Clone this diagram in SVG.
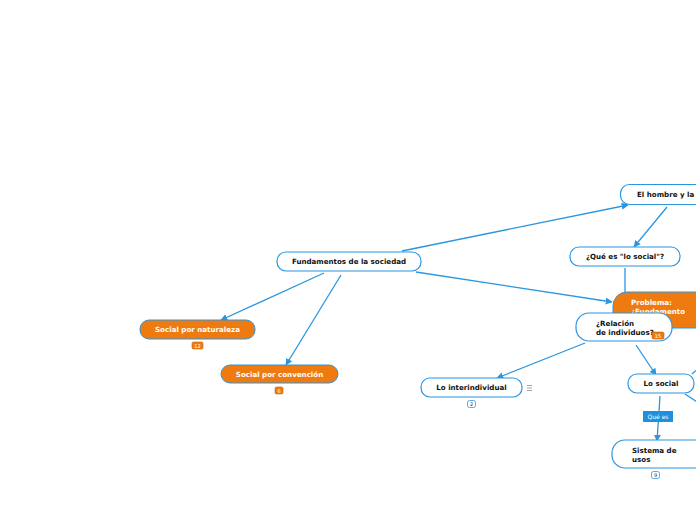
<svg xmlns="http://www.w3.org/2000/svg" width="696" height="520" viewBox="0 0 696 520">
<style>
.n{fill:#fff;stroke:#2a96e0;stroke-width:1.2}
.o{fill:#ef7b10;stroke:#2a96e0;stroke-width:1}
.t{font-family:"DejaVu Sans",sans-serif;font-weight:bold;font-size:7.1px;fill:#111}
.tw{font-family:"DejaVu Sans",sans-serif;font-weight:bold;font-size:7.1px;fill:#fff}
.c{stroke:#2a96e0;stroke-width:1.3;fill:none}
.b{fill:#ef7b10;stroke:#c7620a;stroke-width:0.6}
.bw{fill:#fff;stroke:#2a96e0;stroke-width:0.8}
.bt{font-family:"DejaVu Sans",sans-serif;font-size:5px;fill:#fff}
.btd{font-family:"DejaVu Sans",sans-serif;font-size:5px;fill:#333}
</style>
<defs>
<marker id="a" viewBox="0 0 10 10" refX="9" refY="5" markerWidth="7" markerHeight="7" markerUnits="userSpaceOnUse" orient="auto">
<path d="M0,0 L10,5 L0,10 z" fill="#2a96e0"/>
</marker>
</defs>
<rect width="696" height="520" fill="#fff"/>
<g id="connectors">
<line class="c" x1="402" y1="251" x2="628" y2="205" marker-end="url(#a)"/>
<line class="c" x1="667" y1="207" x2="634" y2="247" marker-end="url(#a)"/>
<line class="c" x1="416" y1="272" x2="612" y2="302" marker-end="url(#a)"/>
<line class="c" x1="625" y1="268" x2="625" y2="294"/>
<line class="c" x1="324" y1="273" x2="221" y2="320" marker-end="url(#a)"/>
<line class="c" x1="341" y1="275" x2="286" y2="365" marker-end="url(#a)"/>
<line class="c" x1="585" y1="343" x2="497" y2="378" marker-end="url(#a)"/>
<line class="c" x1="636" y1="345" x2="656" y2="375" marker-end="url(#a)"/>
<line class="c" x1="660" y1="396" x2="657" y2="441" marker-end="url(#a)"/>
<line class="c" x1="685" y1="394" x2="700" y2="404"/>
<line class="c" x1="692" y1="374" x2="700" y2="367"/>
</g>
<g id="n-hombre">
<rect class="n" x="620.5" y="184.5" width="100" height="20" rx="9"/>
<text class="t" x="637" y="197">El hombre y la</text>
</g>
<g id="n-quees">
<rect class="n" x="570" y="247" width="110" height="19" rx="9"/>
<text class="t" x="625" y="259" text-anchor="middle">¿Qué es "lo social"?</text>
</g>
<g id="n-fund">
<rect class="n" x="277" y="252" width="144" height="19" rx="9"/>
<text class="t" x="349" y="264" text-anchor="middle">Fundamentos de la sociedad</text>
</g>
<g id="n-natur">
<rect class="o" x="140" y="320" width="115" height="19" rx="9"/>
<text class="tw" x="197.5" y="332" text-anchor="middle">Social por naturaleza</text>
<rect class="b" x="192" y="342" width="11" height="7" rx="1.5"/>
<text class="bt" x="197.5" y="347.5" text-anchor="middle">12</text>
</g>
<g id="n-conv">
<rect class="o" x="221" y="365" width="117" height="18" rx="9"/>
<text class="tw" x="279.5" y="377" text-anchor="middle">Social por convención</text>
<rect class="b" x="275" y="387" width="8" height="7" rx="1.5"/>
<text class="bt" x="279" y="392.5" text-anchor="middle">6</text>
</g>
<g id="n-problema">
<rect class="o" x="613" y="292" width="100" height="36" rx="14"/>
<text class="tw" x="631" y="305">Problema:</text>
<text class="tw" x="631" y="314">¿Fundamento</text>
</g>
<g id="n-relacion">
<rect class="n" x="576" y="313" width="96" height="28" rx="13"/>
<text class="t" x="596" y="326">¿Relación</text>
<text class="t" x="596" y="335">de individuos?</text>
<rect class="b" x="652" y="332" width="12" height="7" rx="1.5"/>
<text class="bt" x="658" y="337.5" text-anchor="middle">15</text>
</g>
<g id="n-inter">
<rect class="n" x="421" y="378" width="101" height="19" rx="9"/>
<text class="t" x="471.5" y="390" text-anchor="middle">Lo interindividual</text>
<rect class="bw" x="467.5" y="400.5" width="8" height="7" rx="2"/>
<text class="btd" x="471.5" y="406" text-anchor="middle">2</text>
<g stroke="#666" stroke-width="0.6">
<line x1="527" y1="385.5" x2="532" y2="385.5"/>
<line x1="527" y1="388" x2="532" y2="388"/>
<line x1="527" y1="390.5" x2="532" y2="390.5"/>
</g>
</g>
<g id="n-losocial">
<rect class="n" x="628" y="374" width="66" height="19" rx="9"/>
<text class="t" x="661" y="386" text-anchor="middle">Lo social</text>
</g>
<g id="l-quees">
<rect x="643" y="411" width="30" height="11" fill="#1e90dc"/>
<text x="658" y="419" text-anchor="middle" font-family="DejaVu Sans,sans-serif" font-size="6px" fill="#fff">Qué es</text>
</g>
<g id="n-sistema">
<rect class="n" x="612" y="440" width="100" height="28" rx="13"/>
<text class="t" x="632" y="453">Sistema de</text>
<text class="t" x="632" y="462">usos</text>
<rect class="bw" x="651.5" y="471.5" width="8" height="7" rx="2"/>
<text class="btd" x="655.5" y="477" text-anchor="middle">9</text>
</g>
</svg>
